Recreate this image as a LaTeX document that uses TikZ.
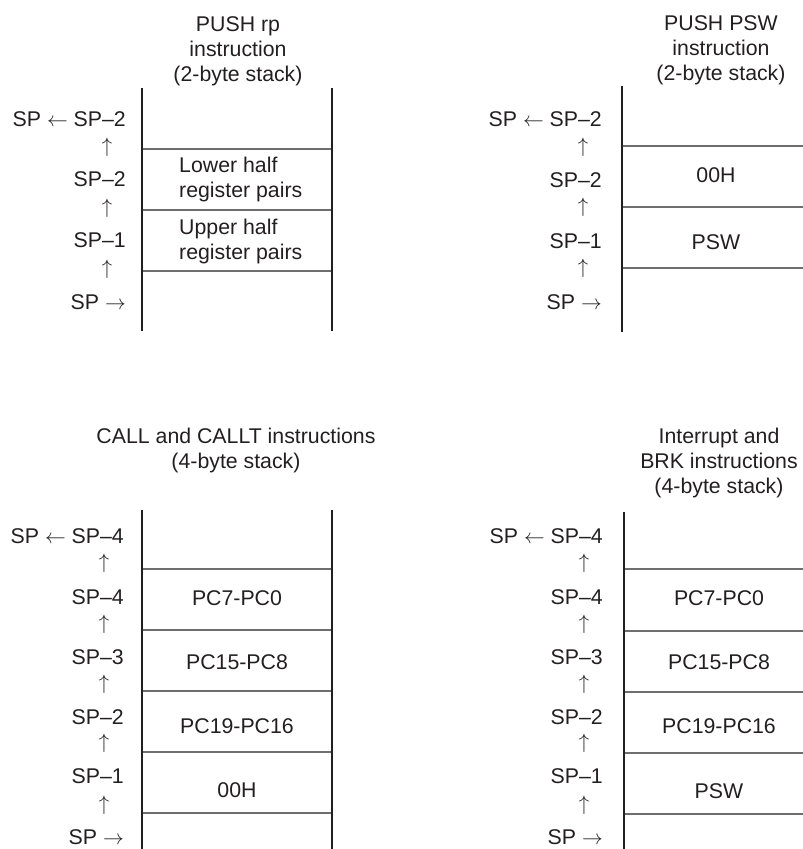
\documentclass[tikz,border=0pt]{standalone}
\usepackage{fontspec}
\setmainfont{Liberation Sans}
\definecolor{ink}{HTML}{231F20}
\definecolor{rulegray}{HTML}{6E6E6E}
\begin{document}
\begin{tikzpicture}[x=1pt,y=-1pt,
  every node/.style={font=\fontsize{21.3}{24.8}\selectfont, text=ink, inner sep=0pt},
  title/.style={align=center, anchor=base},
  lbl/.style={anchor=base east},
  uparr/.style={anchor=center},
  cell/.style={anchor=base},
  wall/.style={line width=2.6pt, draw=ink},
  sepline/.style={line width=1.3pt, draw=rulegray}]
\useasboundingbox (0,0) rectangle (803,849);

% ---------------- Stack A: PUSH rp ----------------
\node[title] (A-title) at (238,81) {PUSH rp\\instruction\\(2-byte stack)};
\coordinate (A-tl) at (142,88);  \coordinate (A-bl) at (142,331);
\coordinate (A-tr) at (332,88);  \coordinate (A-br) at (332,331);
\foreach \i/\y in {1/149,2/210,3/271}{
  \coordinate (A-l\i) at (142,\y); \coordinate (A-r\i) at (332,\y);
  \draw[sepline] (A-l\i) -- (A-r\i);}
\draw[wall] (A-tl) -- (A-bl);
\draw[wall] (A-tr) -- (A-br);
\node[lbl] (A-s0) at (126,126) {SP $\leftarrow$ SP–2};
\node[uparr] (A-u1) at (107,147.5) {$\uparrow$};
\node[lbl] (A-s1) at (126,186) {SP–2};
\node[uparr] (A-u2) at (107,208) {$\uparrow$};
\node[lbl] (A-s2) at (126,247) {SP–1};
\node[uparr] (A-u3) at (107,269.5) {$\uparrow$};
\node[lbl] (A-s3) at (126,309) {SP $\rightarrow$};
\node[anchor=base west, align=left] (A-c1) at (179,197) {Lower half\\register pairs};
\node[anchor=base west, align=left] (A-c2) at (179,259) {Upper half\\register pairs};

% ---------------- Stack B: PUSH PSW ----------------
\node[title] (B-title) at (721,80) {PUSH PSW\\instruction\\(2-byte stack)};
\coordinate (B-tl) at (622,86);  \coordinate (B-bl) at (622,332);
\foreach \i/\y in {1/146,2/207,3/268}{
  \coordinate (B-l\i) at (622,\y); \coordinate (B-r\i) at (803,\y);
  \draw[sepline] (B-l\i) -- (B-r\i);}
\draw[wall] (B-tl) -- (B-bl);
\node[lbl] (B-s0) at (602,126) {SP $\leftarrow$ SP–2};
\node[uparr] (B-u1) at (583,147) {$\uparrow$};
\node[lbl] (B-s1) at (602,187) {SP–2};
\node[uparr] (B-u2) at (583,207) {$\uparrow$};
\node[lbl] (B-s2) at (602,248) {SP–1};
\node[uparr] (B-u3) at (583,268) {$\uparrow$};
\node[lbl] (B-s3) at (602,309) {SP $\rightarrow$};
\node[cell] (B-c1) at (716,182) {00H};
\node[cell] (B-c2) at (716,249) {PSW};

% ---------------- Stack C: CALL / CALLT ----------------
\node[title] (C-title) at (236,468) {CALL and CALLT instructions\\(4-byte stack)};
\coordinate (C-tl) at (142,510);  \coordinate (C-bl) at (142,849);
\coordinate (C-tr) at (332,510);  \coordinate (C-br) at (332,849);
\foreach \i/\y in {1/569,2/630,3/691,4/752,5/813}{
  \coordinate (C-l\i) at (142,\y); \coordinate (C-r\i) at (332,\y);
  \draw[sepline] (C-l\i) -- (C-r\i);}
\draw[wall] (C-tl) -- (C-bl);
\draw[wall] (C-tr) -- (C-br);
\node[lbl] (C-s0) at (124,543) {SP $\leftarrow$ SP–4};
\node[uparr] (C-u1) at (104,563) {$\uparrow$};
\node[lbl] (C-s1) at (124,604) {SP–4};
\node[uparr] (C-u2) at (104,624) {$\uparrow$};
\node[lbl] (C-s2) at (124,664) {SP–3};
\node[uparr] (C-u3) at (104,684) {$\uparrow$};
\node[lbl] (C-s3) at (124,724) {SP–2};
\node[uparr] (C-u4) at (104,743) {$\uparrow$};
\node[lbl] (C-s4) at (124,783) {SP–1};
\node[uparr] (C-u5) at (104,805) {$\uparrow$};
\node[lbl] (C-s5) at (124,844) {SP $\rightarrow$};
\node[cell] (C-c1) at (237,605) {PC7-PC0};
\node[cell] (C-c2) at (237,669) {PC15-PC8};
\node[cell] (C-c3) at (237,733) {PC19-PC16};
\node[cell] (C-c4) at (237,797) {00H};

% ---------------- Stack D: Interrupt / BRK ----------------
\node[title] (D-title) at (719,493) {Interrupt and\\BRK instructions\\(4-byte stack)};
\coordinate (D-tl) at (624,512);  \coordinate (D-bl) at (624,849);
\foreach \i/\y in {1/569,2/631,3/692,4/753,5/814}{
  \coordinate (D-l\i) at (624,\y); \coordinate (D-r\i) at (803,\y);
  \draw[sepline] (D-l\i) -- (D-r\i);}
\draw[wall] (D-tl) -- (D-bl);
\node[lbl] (D-s0) at (603,543) {SP $\leftarrow$ SP–4};
\node[uparr] (D-u1) at (584,563) {$\uparrow$};
\node[lbl] (D-s1) at (603,604) {SP–4};
\node[uparr] (D-u2) at (584,624) {$\uparrow$};
\node[lbl] (D-s2) at (603,664) {SP–3};
\node[uparr] (D-u3) at (584,684) {$\uparrow$};
\node[lbl] (D-s3) at (603,724) {SP–2};
\node[uparr] (D-u4) at (584,743) {$\uparrow$};
\node[lbl] (D-s4) at (603,783) {SP–1};
\node[uparr] (D-u5) at (584,805) {$\uparrow$};
\node[lbl] (D-s5) at (603,844) {SP $\rightarrow$};
\node[cell] (D-c1) at (719,605) {PC7-PC0};
\node[cell] (D-c2) at (719,669) {PC15-PC8};
\node[cell] (D-c3) at (719,733) {PC19-PC16};
\node[cell] (D-c4) at (719,798) {PSW};
\end{tikzpicture}
\end{document}
